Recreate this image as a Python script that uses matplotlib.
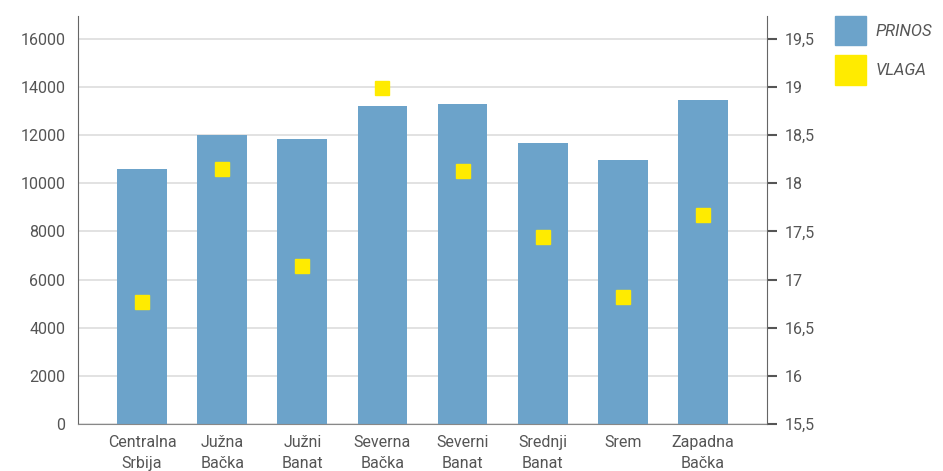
import numpy as np
import matplotlib.pyplot as plt
from matplotlib.patches import Patch

regions = ['Centralna\nSrbija', 'Južna\nBačka', 'Južni\nBanat', 'Severna\nBačka',
           'Severni\nBanat', 'Srednji\nBanat', 'Srem', 'Zapadna\nBačka']
prinos = [10600, 12000, 11850, 13220, 13300, 11680, 10970, 13470]
vlaga = [16.77, 18.15, 17.14, 18.99, 18.13, 17.44, 16.82, 17.67]

plt.rcParams['font.family'] = ['Roboto', 'DejaVu Sans']
txt = '#555555'
bar_col = '#6ca3ca'
yel = '#ffeb00'

fig = plt.figure(figsize=(9.43, 4.71), dpi=100)
ax = fig.add_axes([78/943, 47/471, 689/943, 408/471])
x = np.arange(len(regions))
ax.bar(x, prinos, width=0.62, color=bar_col, zorder=2)
ax.set_xlim(-0.8, 7.8)
ax.set_ylim(0, 16950)
ax.set_yticks(np.arange(0, 16001, 2000))
ax.grid(axis='y', color='#dddddd', linewidth=1.2, zorder=0)
ax.set_xticks(x)
ax.set_xticklabels(regions, fontsize=11.5, color=txt, linespacing=1.45)
ax.tick_params(axis='x', length=0, pad=8)
ax.tick_params(axis='y', length=0, labelsize=11.5, labelcolor=txt, pad=9)
for s in ['top', 'right']:
    ax.spines[s].set_visible(False)
ax.spines['left'].set_color('#666666')
ax.spines['bottom'].set_color('#888888')

ax2 = ax.twinx()
ax2.plot(x, vlaga, 's', color=yel, markersize=9.5, zorder=3)
ax2.set_ylim(15.5, 15.5 + 4 * 16950 / 16000)
ticks = np.arange(15.5, 19.51, 0.5)
ax2.set_yticks(ticks)
ax2.set_yticklabels([('%g' % t).replace('.', ',') for t in ticks])
ax2.tick_params(axis='y', length=7, width=1.5, color='#555555', labelsize=11.5,
                labelcolor=txt, pad=6)
for s in ['top', 'left', 'bottom']:
    ax2.spines[s].set_visible(False)
ax2.spines['right'].set_color('#666666')

handles = [Patch(color=bar_col), Patch(color=yel)]
leg = fig.legend(handles, ['PRINOS', 'VLAGA'], loc='upper left',
                 bbox_to_anchor=(828/943, 1 - 9/471), frameon=False,
                 handlelength=1.85, handleheight=2.35, labelspacing=0.6,
                 handletextpad=0.6, borderaxespad=0, borderpad=0.4,
                 prop={'size': 12, 'style': 'italic'})
for t in leg.get_texts():
    t.set_color(txt)

fig.savefig('out.png', dpi=100)
